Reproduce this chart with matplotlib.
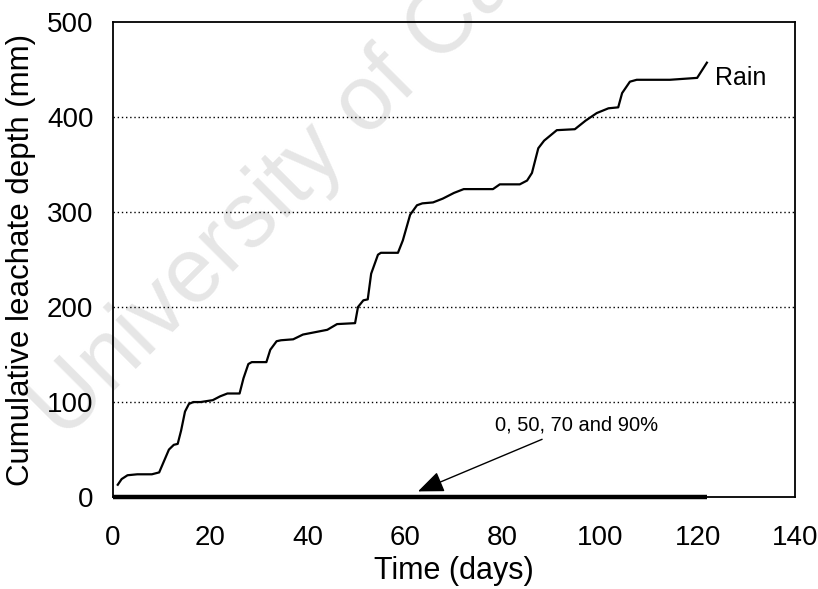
import matplotlib
matplotlib.use("Agg")
import matplotlib.pyplot as plt

plt.rcParams["font.family"] = ["Liberation Sans", "DejaVu Sans"]

# Cumulative leachate depth under rain (mm) against time (days)
rain_days = [1.0, 1.8, 3, 5, 8, 9.5, 10.5, 11.5, 12.5, 13.3, 14, 14.8, 15.6, 16.5,
             18, 20.5, 22, 23.5, 26, 26.8, 27.8, 28.5, 31.5, 32.3, 33.6, 34.5, 37,
             39, 42, 44, 46, 49.7, 50.3, 51.4, 52.3, 53, 54.4, 55, 58.5, 59.5, 61,
             62.4, 63.5, 65.7, 67.7, 70, 72, 78, 79.4, 83.5, 85, 86, 87.3, 88.5,
             91.1, 94.8, 97, 99.3, 101.7, 103.7, 104.5, 106.1, 107.5, 114.3,
             119.9, 121.9]
rain_depth = [13, 19, 23, 24, 24, 26, 38, 50, 55, 56, 70, 90, 98, 100,
              100, 102, 106, 109, 109, 125, 140, 142, 142, 155, 164, 165, 166,
              171, 174, 176, 182, 183, 200, 207, 208, 235, 255, 257, 257, 270, 297,
              307, 309, 310, 314, 320, 324, 324, 329, 329, 333, 341, 367, 375,
              386, 387, 396, 404, 409, 410, 425, 437, 439, 439,
              441, 457]

# Shading treatments: no leachate collected at any level
shade_days = [0, 122]
shade_depth = [0, 0]

rain_label = "Rain"
shade_label = "0, 50, 70 and 90%"
x_ticks = [0, 20, 40, 60, 80, 100, 120, 140]
y_ticks = [0, 100, 200, 300, 400, 500]

fig = plt.figure(figsize=(8.18, 5.89), dpi=100)
ax = fig.add_axes([0.138, 0.156, 0.834, 0.807])
ax.patch.set_alpha(0)

fig.text(0.078, 0.25, "University of Cape Town", rotation=45,
         rotation_mode="anchor", ha="left", va="baseline",
         fontsize=66, color="#e6e6e6", zorder=-1)

ax.plot(rain_days, rain_depth, color="black", lw=1.6,
        solid_joinstyle="round", zorder=3)
ax.plot(shade_days, shade_depth, color="black", lw=3.2,
        solid_capstyle="butt", zorder=4, clip_on=False)

ax.text(123.5, 441, rain_label, fontsize=18, va="center", ha="left")
ax.annotate(shade_label, xy=(62.6, 6), xytext=(78.4, 66),
            fontsize=14.5, ha="left", va="bottom",
            arrowprops=dict(arrowstyle="-|>,head_length=1.1,head_width=0.45",
                            color="black", lw=1.0, shrinkA=4, shrinkB=0))

ax.set_xlim(0, 140)
ax.set_ylim(0, 500)
ax.set_xticks(x_ticks)
ax.set_yticks(y_ticks)
ax.tick_params(length=0, labelsize=20)
ax.tick_params(axis="y", pad=14)
ax.tick_params(axis="x", pad=20)
for y in y_ticks[1:-1]:
    ax.axhline(y, color="black", lw=1.0, ls=(0, (1, 2)), zorder=1)
for sp in ax.spines.values():
    sp.set_linewidth(1.3)

ax.set_xlabel("Time (days)", fontsize=22, labelpad=4)
ax.set_ylabel("Cumulative leachate depth (mm)", fontsize=22.5, labelpad=8)

fig.savefig("out.png", dpi=100, facecolor="white")
